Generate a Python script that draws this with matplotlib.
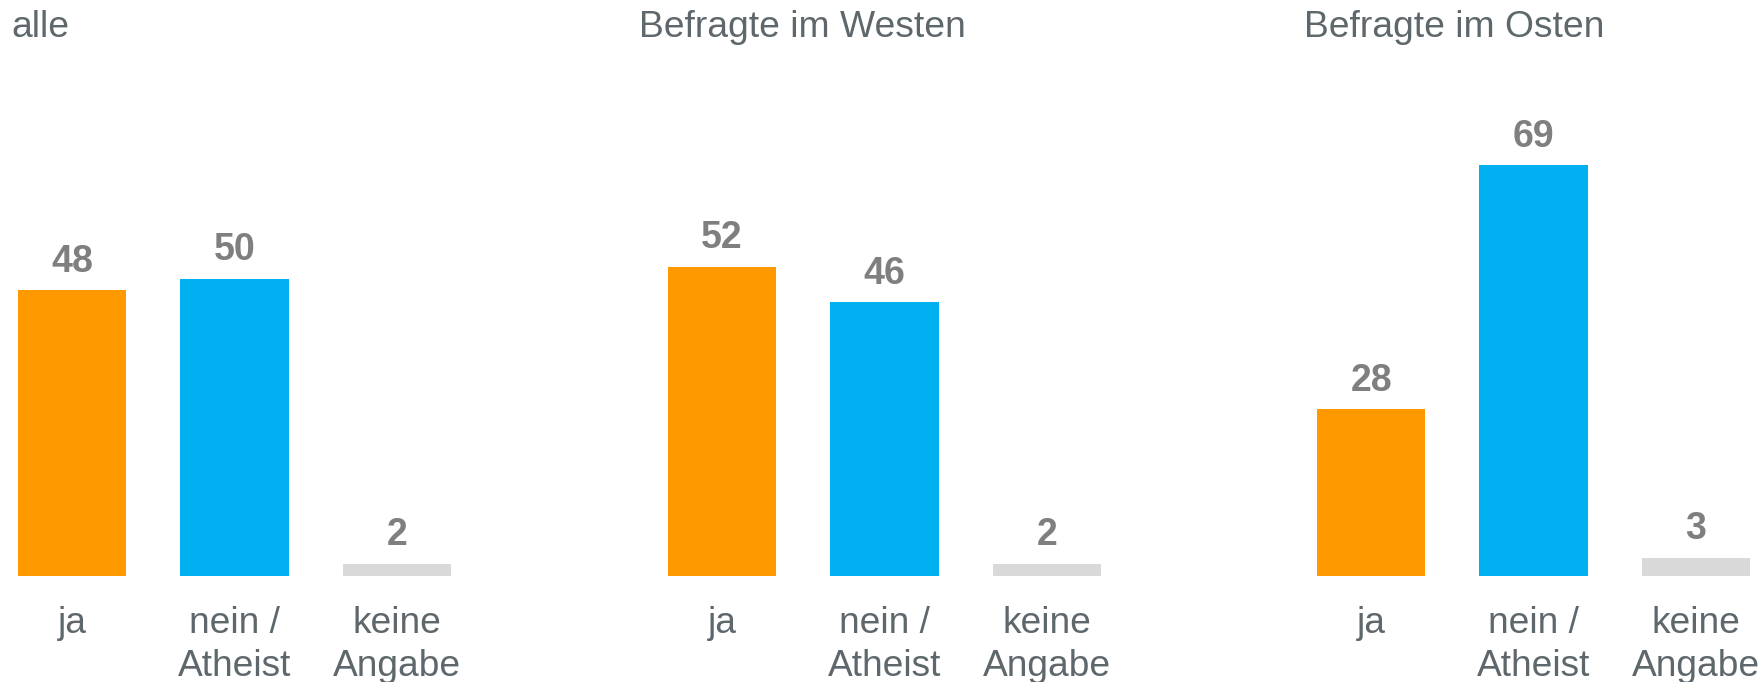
import matplotlib
matplotlib.use("Agg")
import matplotlib.pyplot as plt

plt.rcParams["font.family"] = ["Liberation Sans", "DejaVu Sans"]

# =========================
# Daten
# =========================
groups = ["alle", "Befragte im Westen", "Befragte im Osten"]
categories = ["ja", "nein /\nAtheist", "keine\nAngabe"]
values_alle = [48, 50, 2]
values_west = [52, 46, 2]
values_ost = [28, 69, 3]
all_values = [values_alle, values_west, values_ost]

bar_colors = ["#FF9900", "#00B0F0", "#D9D9D9"]
label_color = "#7F7F7F"
text_color = "#5E686C"

W, H = 1763, 682
fig = plt.figure(figsize=(W / 100, H / 100), dpi=100)

panel_left = [18, 668, 1317]
title_x = [11, 639, 1304]
panel_w = 433
base_y = 576
unit_px = 5.95
ymax = 80

for gi, (group, vals) in enumerate(zip(groups, all_values)):
    ax = fig.add_axes([panel_left[gi] / W, (H - base_y) / H,
                       panel_w / W, ymax * unit_px / H])
    x = list(range(len(categories)))
    ax.bar(x, vals, width=2 / 3, color=bar_colors)
    ax.set_xlim(-1 / 3, len(categories) - 1 + 1 / 3)
    ax.set_ylim(0, ymax)
    ax.axis("off")

    # Werte
    for xi, v in zip(x, vals):
        ax.annotate(str(v), xy=(xi, v), xytext=(0, 13.5), textcoords="offset points",
                    ha="center", va="baseline", fontsize=27, fontweight="bold",
                    color=label_color)

    # Kategorien (zeilenweise)
    for xi, cat in zip(x, categories):
        for li, line in enumerate(cat.split("\n")):
            ax.annotate(line, xy=(xi, 0), xycoords=("data", "axes fraction"),
                        xytext=(0, -41 - li * 31), textcoords="offset points",
                        ha="center", va="baseline", fontsize=26.7, color=text_color,
                        annotation_clip=False)

    fig.text(title_x[gi] / W, 1 - 37 / H, group, ha="left", va="baseline",
             fontsize=26.8, color=text_color)

fig.savefig("out.png", dpi=100, facecolor="white")
